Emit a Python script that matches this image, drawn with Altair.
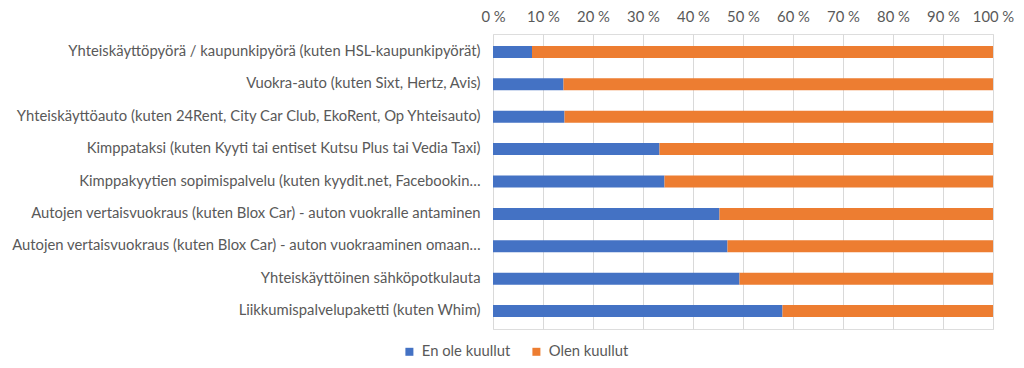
import altair as alt
import pandas as pd

categories = [
    "Yhteiskäyttöpyörä / kaupunkipyörä (kuten HSL-kaupunkipyörät)",
    "Vuokra-auto (kuten Sixt, Hertz, Avis)",
    "Yhteiskäyttöauto (kuten 24Rent, City Car Club, EkoRent, Op Yhteisauto)",
    "Kimppataksi (kuten Kyyti tai entiset Kutsu Plus tai Vedia Taxi)",
    "Kimppakyytien sopimispalvelu (kuten kyydit.net, Facebookin…",
    "Autojen vertaisvuokraus (kuten Blox Car) - auton vuokralle antaminen",
    "Autojen vertaisvuokraus (kuten Blox Car) - auton vuokraaminen omaan…",
    "Yhteiskäyttöinen sähköpotkulauta",
    "Liikkumispalvelupaketti (kuten Whim)",
]
series = ["En ole kuullut", "Olen kuullut"]
en_ole = [7.8, 14.1, 14.3, 33.3, 34.3, 45.3, 46.9, 49.3, 57.9]
olen = [92.2, 85.9, 85.7, 66.7, 65.7, 54.7, 53.1, 50.7, 42.1]
x_ticks = [0, 0.1, 0.2, 0.3, 0.4, 0.5, 0.6, 0.7, 0.8, 0.9, 1.0]

rows = []
for c, a, b in zip(categories, en_ole, olen):
    rows.append({"cat": c, "series": series[0], "val": a, "ord": 0})
    rows.append({"cat": c, "series": series[1], "val": b, "ord": 1})
df = pd.DataFrame(rows)

FONT = "Lato"
GREY = "#595959"
FS = 14.8

chart = alt.Chart(df).mark_bar(size=12).encode(
    y=alt.Y("cat:N", sort=categories, title=None,
            scale=alt.Scale(paddingInner=0.63, paddingOuter=0.37),
            axis=alt.Axis(domain=False, ticks=False, labelPadding=13,
                          minExtent=485, maxExtent=485, labelLimit=472,
                          labelFont=FONT, labelFontSize=FS, labelColor=GREY)),
    x=alt.X("val:Q", stack="normalize", title=None,
            scale=alt.Scale(domain=[0, 1], nice=False),
            axis=alt.Axis(orient="top", values=x_ticks, domain=False, ticks=False,
                          labelExpr="format(datum.value*100, 'd') + ' %'",
                          labelOverlap=False, labelFlush=False,
                          labelPadding=10, minExtent=26, maxExtent=26,
                          grid=True, gridColor="#D9D9D9", gridWidth=1,
                          labelFont=FONT, labelFontSize=FS, labelColor=GREY)),
    color=alt.Color("series:N", sort=series,
                    scale=alt.Scale(domain=series, range=["#4472C4", "#ED7D31"]),
                    legend=alt.Legend(title=None, orient="none", direction="horizontal",
                                      legendX=-91, legendY=310, symbolType="square",
                                      symbolSize=64, symbolStrokeWidth=0,
                                      labelFont=FONT, labelFontSize=FS, labelColor=GREY,
                                      labelOffset=5, columnPadding=18, padding=0)),
    order=alt.Order("ord:Q"),
).properties(
    width=500, height=295, padding={"left": 0, "top": 0, "right": 0, "bottom": 0}
).configure_view(stroke=None).configure(background="white")

chart.save("out.html", embed_options={"renderer": "svg", "actions": False})
